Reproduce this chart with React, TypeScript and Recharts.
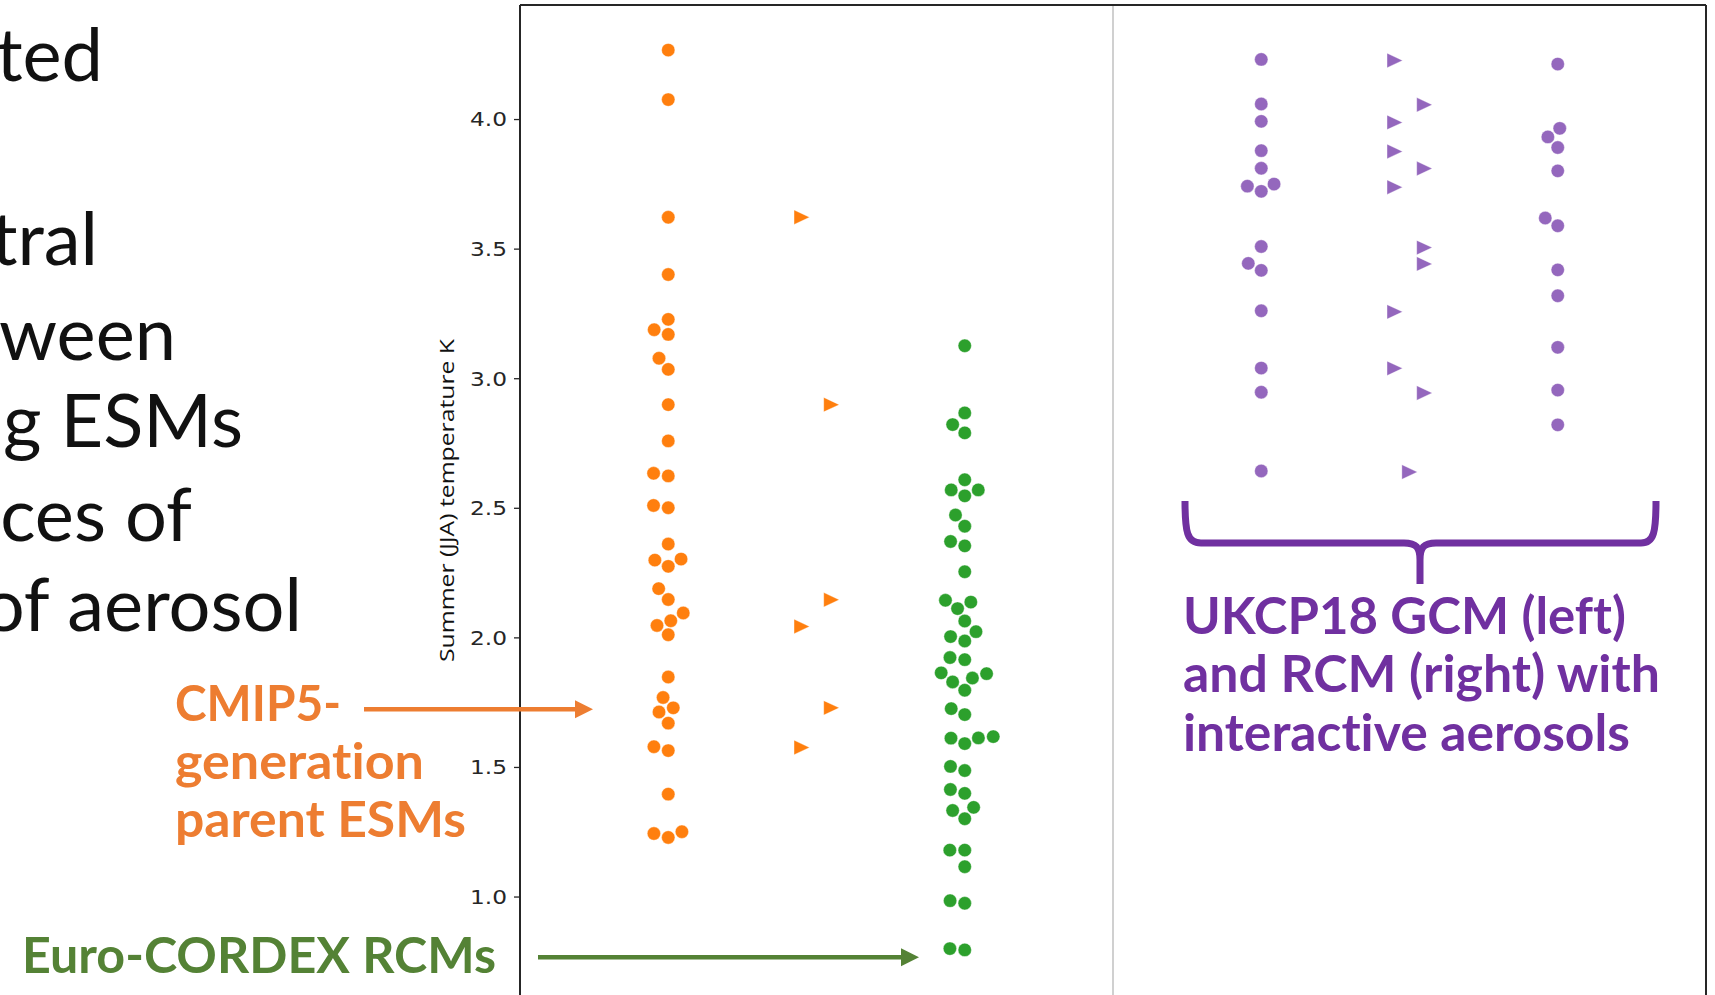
import React from 'react';
import { ScatterChart, Scatter, XAxis, YAxis, ReferenceLine } from 'recharts';

// ---------------- data ----------------
// category slots along the x axis (slot 3 is the gap holding the divider line)
const categories = ['CMIP5 ESMs', 'CMIP5 driving ESMs', 'Euro-CORDEX RCMs', '', 'UKCP18 GCM', 'UKCP18 GCM driving RCM', 'UKCP18 RCM'];

// Summer (JJA) temperature change, K
const cmip5Esms = [
  4.268, 4.077, 3.623, 3.402, 3.229, 3.189, 3.171, 3.079, 3.036, 2.9, 2.76, 2.635, 2.625,
  2.511, 2.502, 2.362, 2.3, 2.304, 2.276, 2.19, 2.148, 2.096, 2.048, 2.066, 2.012, 1.849,
  1.77, 1.73, 1.714, 1.671, 1.58, 1.565, 1.397, 1.245, 1.23, 1.252,
];
const cmip5Driving = [3.623, 2.9, 2.147, 2.044, 1.73, 1.577];
const cmip5DrivingHue = ['a', 'c', 'c', 'a', 'c', 'a'];
const euroCordexRcms = [
  3.127, 2.868, 2.823, 2.791, 2.61, 2.571, 2.571, 2.548, 2.474, 2.431, 2.372, 2.355, 2.255,
  2.145, 2.138, 2.113, 2.065, 2.024, 2.005, 1.988, 1.924, 1.916, 1.865, 1.862, 1.845, 1.83,
  1.798, 1.727, 1.704, 1.619, 1.614, 1.613, 1.592, 1.504, 1.488, 1.415, 1.4, 1.346, 1.334,
  1.302, 1.181, 1.181, 1.117, 0.986, 0.976, 0.801, 0.796,
];
const ukcpGcm = [4.232, 4.06, 3.993, 3.88, 3.812, 3.751, 3.743, 3.723, 3.51, 3.445, 3.418, 3.262, 3.041, 2.948, 2.644];
const ukcpGcmDriving = [4.228, 4.057, 3.989, 3.877, 3.811, 3.739, 3.506, 3.443, 3.258, 3.04, 2.945, 2.64];
const ukcpGcmDrivingHue = ['a', 'c', 'a', 'a', 'c', 'a', 'c', 'c', 'a', 'a', 'c', 'b'];
const ukcpRcm = [4.214, 3.966, 3.933, 3.892, 3.802, 3.62, 3.59, 3.42, 3.32, 3.121, 2.956, 2.822];

const yTicks = [1.0, 1.5, 2.0, 2.5, 3.0, 3.5, 4.0];
const yDomain: [number, number] = [0.622, 4.442];
const xDomain: [number, number] = [-1, 7];
const yLabel = 'Summer (JJA) temperature K';

// ---------------- layout ----------------
const W = 1715;
const H = 995;
const MARGIN = { top: 5, right: 9, bottom: 0, left: 0 };
const Y_AXIS_W = 520;
const PLOT_W = W - MARGIN.left - MARGIN.right - Y_AXIS_W;
const PLOT_H = H - MARGIN.top - MARGIN.bottom;
const PX_PER_X = PLOT_W / (xDomain[1] - xDomain[0]);
const PX_PER_Y = PLOT_H / (yDomain[1] - yDomain[0]);
const SWARM_R = 7.1;
const DODGE: Record<string, number> = { a: -0.1, b: 0, c: 0.1 };

const ORANGE = '#ff7f0e';
const GREEN = '#2ca02c';
const PURPLE = '#9467bd';

// seaborn-like beeswarm, computed in pixel space
function swarm(values: number[]): number[] {
  const order = values.map((_, i) => i).sort((a, b) => values[a] - values[b]);
  const placed: { x: number; y: number }[] = [];
  const out = new Array(values.length).fill(0);
  const sep2 = 4 * SWARM_R * SWARM_R;
  for (const i of order) {
    const y = values[i] * PX_PER_Y;
    const nb: { x: number; y: number }[] = [];
    for (let k = placed.length - 1; k >= 0; k--) {
      if (y - placed[k].y < 2 * SWARM_R) nb.unshift(placed[k]);
      else break;
    }
    let x = 0;
    if (nb.length) {
      const cands: number[] = [0];
      let leftFirst = true;
      for (const n of nb) {
        const dy = y - n.y;
        const dx = Math.sqrt(Math.max(sep2 - dy * dy, 0)) * 1.05;
        if (leftFirst) cands.push(n.x - dx, n.x + dx);
        else cands.push(n.x + dx, n.x - dx);
        leftFirst = !leftFirst;
      }
      const sorted = cands
        .map((c, j) => ({ c, j }))
        .sort((p, q) => Math.abs(p.c) - Math.abs(q.c) || p.j - q.j)
        .map((o) => o.c);
      for (const c of sorted) {
        if (nb.every((n) => (n.x - c) ** 2 + (n.y - y) ** 2 >= sep2 - 1e-6)) {
          x = c;
          break;
        }
      }
    }
    placed.push({ x, y });
    out[i] = x;
  }
  return out;
}

const swarmData = (cat: number, values: number[]) => {
  const off = swarm(values);
  return values.map((v, i) => ({ x: cat + off[i] / PX_PER_X, y: v, name: categories[cat] }));
};
const dodgeData = (cat: number, values: number[], hue: string[]) =>
  values.map((v, i) => ({ x: cat + DODGE[hue[i]], y: v, name: categories[cat] }));

const circle = (color: string) => (p: any) => (
  <circle cx={p.cx} cy={p.cy} r={6.7} fill={color} stroke="#ffffff" strokeWidth={0.4} />
);
const triangle = (color: string) => (p: any) => (
  <polygon
    points={`${p.cx - 7.6},${p.cy - 7.2} ${p.cx - 7.6},${p.cy + 7.2} ${p.cx + 7.8},${p.cy}`}
    fill={color}
    stroke="#ffffff"
    strokeWidth={0.3}
  />
);

const YTick = (props: any) => {
  const { x, y, payload } = props;
  return (
    <text
      x={x}
      y={y}
      dy="0.36em"
      textAnchor="end"
      fontFamily="DejaVu Sans"
      fontSize={19}
      fill="#262626"
      textLength={37}
      lengthAdjust="spacingAndGlyphs"
    >
      {Number(payload.value).toFixed(1)}
    </text>
  );
};

const bodyLines = [
  { t: 'ted', x: 103, y: 81 },
  { t: 'tral', x: 98, y: 265 },
  { t: 'ween', x: 176, y: 360 },
  { t: 'g ESMs', x: 243, y: 447 },
  { t: 'ces of', x: 192, y: 541 },
  { t: 'of aerosol', x: 302, y: 631 },
];
const cmipLabel = [
  { t: 'CMIP5-', y: 721, len: 166 },
  { t: 'generation', y: 779, len: 249 },
  { t: 'parent ESMs', y: 837, len: 291 },
];
const ukcpLabel = [
  { t: 'UKCP18 GCM (left)', y: 634, len: 443 },
  { t: 'and RCM (right) with', y: 692, len: 477 },
  { t: 'interactive aerosols', y: 751, len: 447 },
];

const noLig: React.CSSProperties = { fontVariantLigatures: 'none', fontFeatureSettings: '"liga" 0, "clig" 0' };

const Overlay = () => (
  <svg width={W} height={H} style={{ position: 'absolute', left: 0, top: 0, pointerEvents: 'none' }}>
    {bodyLines.map((l) => (
      <text key={l.t} x={l.x} y={l.y} textAnchor="end" fontFamily="Lato" fontSize={74} fill="#111111" style={noLig}>
        {l.t}
      </text>
    ))}
    <text
      transform="translate(446,500.5) rotate(-90)"
      textAnchor="middle"
      dominantBaseline="central"
      fontFamily="Open Sans"
      fontSize={20}
      fill="#111111"
      textLength={323}
      lengthAdjust="spacingAndGlyphs"
    >
      {yLabel}
    </text>
    {cmipLabel.map((l) => (
      <text key={l.t} x={175} y={l.y} fontFamily="Lato" fontWeight={700} fontSize={50} fill="#ED7D31" textLength={l.len} lengthAdjust="spacingAndGlyphs" style={noLig}>
        {l.t}
      </text>
    ))}
    <text x={22} y={973} fontFamily="Lato" fontWeight={700} fontSize={49} fill="#548235" textLength={474} lengthAdjust="spacingAndGlyphs" style={noLig}>
      Euro-CORDEX RCMs
    </text>
    {ukcpLabel.map((l) => (
      <text key={l.t} x={1183} y={l.y} fontFamily="Lato" fontWeight={700} fontSize={51} fill="#7030A0" textLength={l.len} lengthAdjust="spacingAndGlyphs" style={noLig}>
        {l.t}
      </text>
    ))}
    {/* arrows */}
    <line x1={364} y1={709.3} x2={578} y2={709.3} stroke="#ED7D31" strokeWidth={4.5} />
    <polygon points="575,700.3 593,709.3 575,718.3" fill="#ED7D31" />
    <line x1={538} y1={957.3} x2={903} y2={957.3} stroke="#548235" strokeWidth={4.5} />
    <polygon points="901,948.3 919,957.3 901,966.3" fill="#548235" />
    {/* brace */}
    <path
      d="M1185,501 C1185,532 1187,543 1201,543 L1404,543 C1416,543 1420,547 1420,560 L1420,584 M1420,560 C1420,547 1424,543 1436,543 L1641,543 C1654,543 1656,532 1656,501"
      fill="none"
      stroke="#7030A0"
      strokeWidth={7}
    />
  </svg>
);

export default function App() {
  return (
    <div style={{ position: 'absolute', left: 0, top: 0, width: W, height: H, overflow: 'hidden', background: '#ffffff' }}>
      <ScatterChart width={W} height={H} margin={MARGIN}>
        <XAxis type="number" dataKey="x" domain={xDomain} hide allowDataOverflow />
        <YAxis
          type="number"
          dataKey="y"
          width={Y_AXIS_W}
          domain={yDomain}
          ticks={yTicks}
          allowDataOverflow
          interval={0}
          tickSize={6}
          tickMargin={7}
          tick={<YTick />}
          axisLine={{ stroke: '#262626', strokeWidth: 2 }}
          tickLine={{ stroke: '#262626', strokeWidth: 1.3 }}
        />
        <ReferenceLine x={3} stroke="#d0d0d0" strokeWidth={2} />
        <ReferenceLine y={yDomain[1]} stroke="#262626" strokeWidth={2} />
        <ReferenceLine x={xDomain[1]} stroke="#262626" strokeWidth={2} />
        <Scatter data={swarmData(0, cmip5Esms)} shape={circle(ORANGE)} isAnimationActive={false} />
        <Scatter data={dodgeData(1, cmip5Driving, cmip5DrivingHue)} shape={triangle(ORANGE)} isAnimationActive={false} />
        <Scatter data={swarmData(2, euroCordexRcms)} shape={circle(GREEN)} isAnimationActive={false} />
        <Scatter data={swarmData(4, ukcpGcm)} shape={circle(PURPLE)} isAnimationActive={false} />
        <Scatter data={dodgeData(5, ukcpGcmDriving, ukcpGcmDrivingHue)} shape={triangle(PURPLE)} isAnimationActive={false} />
        <Scatter data={swarmData(6, ukcpRcm)} shape={circle(PURPLE)} isAnimationActive={false} />
      </ScatterChart>
      <Overlay />
    </div>
  );
}
